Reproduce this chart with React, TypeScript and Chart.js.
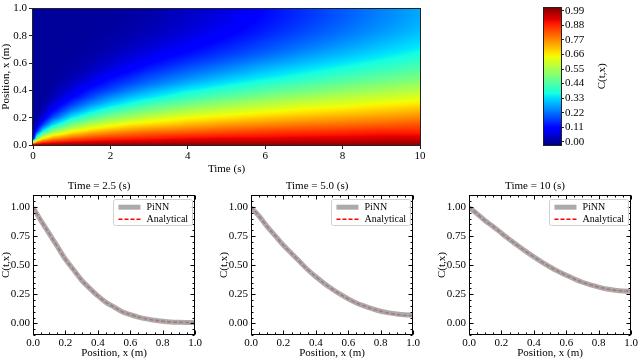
import React, { useEffect, useRef } from 'react';
import Chart from 'chart.js/auto';

const SERIF = '"Liberation Serif", "Times New Roman", serif';

// ---------- Top panel: C(t, x) field ----------
const HEAT_TIMES = [0, 0.1, 0.25, 0.5, 1, 1.5, 2, 2.5, 3, 4, 5, 6, 7, 8, 9, 10];
const HEAT_POSITIONS = [0, 0.05, 0.1, 0.15, 0.2, 0.25, 0.3, 0.35, 0.4, 0.45, 0.5, 0.55, 0.6, 0.65, 0.7, 0.75, 0.8, 0.85, 0.9, 0.95, 1.0];
const C_T0 = [1, 0, 0, 0, 0, 0, 0, 0, 0, 0, 0, 0, 0, 0, 0, 0, 0, 0, 0, 0, 0];
const C_T0_1 = [1, 0.46, 0.14, 0.03, 0.003, 0, 0, 0, 0, 0, 0, 0, 0, 0, 0, 0, 0, 0, 0, 0, 0];
const C_T0_25 = [1, 0.64, 0.35, 0.16, 0.06, 0.02, 0.005, 0, 0, 0, 0, 0, 0, 0, 0, 0, 0, 0, 0, 0, 0];
const C_T0_5 = [1, 0.74, 0.51, 0.32, 0.18, 0.1, 0.05, 0.02, 0.01, 0.003, 0, 0, 0, 0, 0, 0, 0, 0, 0, 0, 0];
const C_T1 = [1, 0.81, 0.64, 0.48, 0.35, 0.24, 0.16, 0.1, 0.06, 0.035, 0.019, 0.01, 0.005, 0.002, 0.001, 0, 0, 0, 0, 0, 0];
const C_T1_5 = [1, 0.85, 0.7, 0.57, 0.44, 0.34, 0.25, 0.18, 0.13, 0.085, 0.056, 0.035, 0.021, 0.013, 0.007, 0.004, 0.002, 0.001, 0, 0, 0];
const C_T2 = [1, 0.87, 0.74, 0.62, 0.51, 0.41, 0.32, 0.25, 0.18, 0.14, 0.1, 0.068, 0.047, 0.031, 0.021, 0.013, 0.008, 0.005, 0.003, 0.002, 0.002];
const C_T2_5 = [1, 0.88, 0.77, 0.66, 0.55, 0.46, 0.37, 0.3, 0.235, 0.18, 0.14, 0.1, 0.075, 0.054, 0.038, 0.026, 0.018, 0.012, 0.009, 0.007, 0.006];
const C_T3 = [1, 0.89, 0.79, 0.68, 0.59, 0.5, 0.42, 0.34, 0.28, 0.22, 0.18, 0.14, 0.105, 0.079, 0.059, 0.043, 0.032, 0.023, 0.018, 0.015, 0.013];
const C_T4 = [1, 0.91, 0.81, 0.72, 0.64, 0.56, 0.48, 0.41, 0.35, 0.29, 0.24, 0.2, 0.16, 0.128, 0.101, 0.082, 0.066, 0.053, 0.045, 0.04, 0.038];
const C_T5 = [1, 0.92, 0.83, 0.75, 0.67, 0.6, 0.53, 0.46, 0.4, 0.345, 0.295, 0.25, 0.21, 0.175, 0.148, 0.124, 0.104, 0.088, 0.076, 0.068, 0.065];
const C_T6 = [1, 0.92, 0.85, 0.77, 0.7, 0.63, 0.57, 0.5, 0.445, 0.39, 0.34, 0.3, 0.26, 0.22, 0.19, 0.17, 0.147, 0.132, 0.12, 0.114, 0.112];
const C_T7 = [1, 0.93, 0.86, 0.79, 0.72, 0.66, 0.6, 0.54, 0.48, 0.43, 0.38, 0.34, 0.3, 0.266, 0.236, 0.21, 0.19, 0.174, 0.162, 0.155, 0.154];
const C_T8 = [1, 0.93, 0.87, 0.8, 0.74, 0.68, 0.62, 0.57, 0.515, 0.466, 0.42, 0.378, 0.34, 0.306, 0.277, 0.252, 0.231, 0.216, 0.204, 0.197, 0.196];
const C_T9 = [1, 0.94, 0.88, 0.815, 0.755, 0.7, 0.647, 0.594, 0.544, 0.497, 0.453, 0.413, 0.377, 0.344, 0.316, 0.292, 0.272, 0.256, 0.245, 0.239, 0.236];
const C_T10 = [1, 0.94, 0.88, 0.83, 0.774, 0.72, 0.668, 0.618, 0.571, 0.526, 0.484, 0.446, 0.412, 0.381, 0.353, 0.33, 0.311, 0.295, 0.285, 0.278, 0.277];
const HEAT_COLUMNS = [C_T0, C_T0_1, C_T0_25, C_T0_5, C_T1, C_T1_5, C_T2, C_T2_5, C_T3, C_T4, C_T5, C_T6, C_T7, C_T8, C_T9, C_T10];

const TIME_TICKS = [0, 2, 4, 6, 8, 10];
const POS_TICKS = [0, 0.2, 0.4, 0.6, 0.8, 1.0];
const CBAR_TICKS = [0, 0.11, 0.22, 0.33, 0.44, 0.55, 0.66, 0.77, 0.88, 0.99];
const CBAR_MIN = -0.024;
const CBAR_MAX = 1.014;

// ---------- Bottom panels: profiles ----------
const PROFILE_X = [0, 0.05, 0.1, 0.15, 0.2, 0.25, 0.3, 0.35, 0.4, 0.45, 0.5, 0.55, 0.6, 0.65, 0.7, 0.75, 0.8, 0.85, 0.9, 0.95, 1.0];
const PINN_T2_5 = [0.995, 0.88, 0.77, 0.66, 0.55, 0.46, 0.37, 0.3, 0.235, 0.18, 0.14, 0.1, 0.075, 0.054, 0.038, 0.026, 0.018, 0.012, 0.009, 0.007, 0.006];
const EXACT_T2_5 = [1, 0.88, 0.77, 0.66, 0.55, 0.46, 0.37, 0.3, 0.235, 0.18, 0.14, 0.1, 0.075, 0.054, 0.038, 0.026, 0.018, 0.012, 0.009, 0.007, 0.006];
const PINN_T5 = [0.995, 0.92, 0.83, 0.75, 0.67, 0.6, 0.53, 0.46, 0.4, 0.345, 0.295, 0.25, 0.21, 0.175, 0.148, 0.124, 0.104, 0.09, 0.08, 0.073, 0.07];
const EXACT_T5 = [1, 0.92, 0.83, 0.75, 0.67, 0.6, 0.53, 0.46, 0.4, 0.345, 0.295, 0.25, 0.21, 0.175, 0.148, 0.124, 0.104, 0.088, 0.076, 0.068, 0.065];
const PINN_T10 = [0.995, 0.94, 0.88, 0.83, 0.774, 0.72, 0.668, 0.618, 0.571, 0.526, 0.484, 0.446, 0.412, 0.381, 0.353, 0.33, 0.311, 0.295, 0.285, 0.278, 0.275];
const EXACT_T10 = [1, 0.94, 0.88, 0.83, 0.774, 0.72, 0.668, 0.618, 0.571, 0.526, 0.484, 0.446, 0.412, 0.381, 0.353, 0.33, 0.311, 0.295, 0.285, 0.278, 0.277];
const PANEL_TITLES = ['Time = 2.5 (s)', 'Time = 5.0 (s)', 'Time = 10 (s)'];
const PROFILE_X_TICKS = [0, 0.2, 0.4, 0.6, 0.8, 1.0];
const PROFILE_C_TICKS = [0, 0.25, 0.5, 0.75, 1.0];
const SERIES_NAMES = ['PiNN', 'Analytical'];

// ---------- helpers ----------
const JET_R = [[0, 0], [0.35, 0], [0.66, 1], [0.89, 1], [1, 0.5]];
const JET_G = [[0, 0], [0.125, 0], [0.375, 1], [0.64, 1], [0.91, 0], [1, 0]];
const JET_B = [[0, 0.5], [0.11, 1], [0.34, 1], [0.65, 0], [1, 0]];
function seg(s: number[][], v: number) {
  for (let i = 0; i < s.length - 1; i++) {
    if (v <= s[i + 1][0]) {
      const f = (v - s[i][0]) / (s[i + 1][0] - s[i][0]);
      return s[i][1] + f * (s[i + 1][1] - s[i][1]);
    }
  }
  return s[s.length - 1][1];
}
function jet(v: number) {
  const t = Math.max(0, Math.min(1, v));
  return [seg(JET_R, t) * 255, seg(JET_G, t) * 255, seg(JET_B, t) * 255];
}
function locate(arr: number[], v: number) {
  if (v <= arr[0]) return [0, 0];
  for (let i = 0; i < arr.length - 1; i++) {
    if (v <= arr[i + 1]) return [i, (v - arr[i]) / (arr[i + 1] - arr[i])];
  }
  return [arr.length - 2, 1];
}
function sampleField(t: number, x: number) {
  const [i, ft] = locate(HEAT_TIMES, t);
  const [j, fx] = locate(HEAT_POSITIONS, x);
  const a = HEAT_COLUMNS[i], b = HEAT_COLUMNS[i + 1];
  const v0 = a[j] + (a[j + 1] - a[j]) * fx;
  const v1 = b[j] + (b[j + 1] - b[j]) * fx;
  return v0 + (v1 - v0) * ft;
}
const font = (size: number) => ({ family: SERIF, size, weight: 'normal' as const, lineHeight: 1.2 });

const heatPlugin = {
  id: 'heatField',
  beforeDatasetsDraw(chart: any) {
    const { ctx, chartArea: a, scales } = chart;
    const xs = scales.x, ys = scales.y;
    const L = Math.round(a.left), T = Math.round(a.top);
    const w = Math.round(a.right) - L, h = Math.round(a.bottom) - T;
    const img = ctx.createImageData(w, h);
    for (let py = 0; py < h; py++) {
      const pos = ys.getValueForPixel(T + py + 0.5);
      for (let px = 0; px < w; px++) {
        const t = xs.getValueForPixel(L + px + 0.5);
        const v = sampleField(t, pos);
        const [r, g, b] = jet((v - CBAR_MIN) / (CBAR_MAX - CBAR_MIN));
        const k = (py * w + px) * 4;
        img.data[k] = r; img.data[k + 1] = g; img.data[k + 2] = b; img.data[k + 3] = 255;
      }
    }
    const off = document.createElement('canvas');
    off.width = w; off.height = h;
    (off.getContext('2d') as CanvasRenderingContext2D).putImageData(img, 0, 0);
    ctx.drawImage(off, L, T);
  },
  afterDraw(chart: any) {
    const { ctx, chartArea: a } = chart;
    ctx.save();
    ctx.strokeStyle = '#222';
    ctx.lineWidth = 1;
    ctx.strokeRect(Math.round(a.left) - 0.5, Math.round(a.top) - 0.5, Math.round(a.right - a.left) + 1, Math.round(a.bottom - a.top) + 1);
    ctx.restore();
  },
};

const colorbarPlugin = {
  id: 'colorbar',
  beforeDatasetsDraw(chart: any) {
    const { ctx, chartArea: a, scales } = chart;
    const ys = scales.y;
    for (let py = Math.round(a.top); py < Math.round(a.bottom); py++) {
      const v = ys.getValueForPixel(py + 0.5);
      const [r, g, b] = jet((v - CBAR_MIN) / (CBAR_MAX - CBAR_MIN));
      ctx.fillStyle = `rgb(${r},${g},${b})`;
      ctx.fillRect(a.left, py, a.right - a.left, 1);
    }
  },
  afterDraw(chart: any) {
    const { ctx, chartArea: a } = chart;
    ctx.save();
    ctx.strokeStyle = '#222';
    ctx.lineWidth = 1;
    ctx.strokeRect(Math.round(a.left) - 0.5, Math.round(a.top) - 0.5, Math.round(a.right - a.left) + 1, Math.round(a.bottom - a.top) + 1);
    ctx.translate(72, (a.top + a.bottom) / 2);
    ctx.rotate(-Math.PI / 2);
    ctx.fillStyle = '#000';
    ctx.font = `11px ${SERIF}`;
    ctx.textAlign = 'center';
    ctx.textBaseline = 'middle';
    ctx.fillText('C(t,x)', 0, 0);
    ctx.restore();
  },
};

const profilePlugin = {
  id: 'profileFrame',
  afterDraw(chart: any) {
    const { ctx, chartArea: a, scales } = chart;
    const xs = scales.x, ys = scales.y;
    const L = Math.round(a.left) + 0.5, R = Math.round(a.right) - 0.5;
    const T = Math.round(a.top) + 0.5, B = Math.round(a.bottom) - 0.5;
    ctx.save();
    ctx.strokeStyle = '#000';
    ctx.lineWidth = 1;
    ctx.strokeRect(L, T, R - L, B - T);
    const tick = (len: number, vx: number | null, vy: number | null) => {
      ctx.beginPath();
      if (vx !== null) {
        const p = Math.round(xs.getPixelForValue(vx)) + 0.5;
        ctx.moveTo(p, B); ctx.lineTo(p, B - len);
        ctx.moveTo(p, T); ctx.lineTo(p, T + len);
      } else if (vy !== null) {
        const p = Math.round(ys.getPixelForValue(vy)) + 0.5;
        ctx.moveTo(L, p); ctx.lineTo(L + len, p);
        ctx.moveTo(R, p); ctx.lineTo(R - len, p);
      }
      ctx.stroke();
    };
    for (let k = 0; k <= 20; k++) {
      const v = k / 20;
      tick(k % 4 === 0 ? 4 : 2, v, null);
    }
    for (let k = -2; k <= 22; k++) {
      const v = k / 20;
      tick(k % 5 === 0 ? 4 : 2, null, v);
    }
    // legend
    ctx.font = `10px ${SERIF}`;
    const tw = Math.max(...SERIES_NAMES.map((n) => ctx.measureText(n).width));
    const bw = 5 + 22 + 6 + tw + 4;
    const bh = 26;
    const bx = a.right - 3 - bw;
    const by = a.top + 4;
    ctx.fillStyle = 'rgba(255,255,255,0.85)';
    ctx.strokeStyle = '#d0d0d0';
    ctx.lineWidth = 1;
    ctx.beginPath();
    ctx.roundRect(Math.round(bx) + 0.5, Math.round(by) + 0.5, Math.round(bw), bh, 2);
    ctx.fill();
    ctx.stroke();
    chart.data.datasets.forEach((ds: any, i: number) => {
      const yy = by + 8 + i * 12;
      ctx.beginPath();
      ctx.strokeStyle = ds.borderColor;
      ctx.lineWidth = ds.borderWidth;
      ctx.setLineDash(ds.borderDash || []);
      ctx.moveTo(bx + 5, yy);
      ctx.lineTo(bx + 27, yy);
      ctx.stroke();
      ctx.setLineDash([]);
      ctx.fillStyle = '#000';
      ctx.textAlign = 'left';
      ctx.textBaseline = 'middle';
      ctx.fillText(ds.label, bx + 33, yy);
    });
    ctx.restore();
  },
};

function heatConfig(): any {
  return {
    type: 'scatter',
    data: { datasets: [{ data: [] }] },
    options: {
      responsive: false,
      animation: false,
      devicePixelRatio: 1,
      layout: { padding: { left: 0, right: 20, top: 4, bottom: 0 } },
      plugins: { legend: { display: false }, tooltip: { enabled: false } },
      scales: {
        x: {
          type: 'linear', min: 0, max: 10,
          afterBuildTicks: (s: any) => { s.ticks = TIME_TICKS.map((v) => ({ value: v })); },
          afterFit: (s: any) => { s.height = 35; },
          ticks: { callback: (v: any) => String(v), font: font(11), color: '#000', padding: 1, maxRotation: 0, autoSkip: false },
          grid: { drawOnChartArea: false, drawTicks: true, tickLength: 4, tickColor: '#222', tickWidth: 1 },
          border: { display: false },
          title: { display: true, text: 'Time (s)', font: font(11), color: '#000', padding: { top: 0, bottom: 4 } },
        },
        y: {
          type: 'linear', min: 0, max: 1,
          afterBuildTicks: (s: any) => { s.ticks = POS_TICKS.map((v) => ({ value: v })); },
          afterFit: (s: any) => { s.width = 33; },
          ticks: { callback: (v: any) => Number(v).toFixed(1), font: font(11), color: '#000', padding: 2, autoSkip: false },
          grid: { drawOnChartArea: false, drawTicks: true, tickLength: 4, tickColor: '#222', tickWidth: 1 },
          border: { display: false },
          title: { display: true, text: 'Position, x (m)', font: font(11), color: '#000', padding: 0 },
        },
      },
    },
    plugins: [heatPlugin],
  };
}

function colorbarConfig(): any {
  return {
    type: 'scatter',
    data: { datasets: [{ data: [] }] },
    options: {
      responsive: false,
      animation: false,
      devicePixelRatio: 1,
      layout: { padding: { left: 14, right: 31, top: 4, bottom: 35 } },
      plugins: { legend: { display: false }, tooltip: { enabled: false } },
      scales: {
        x: { type: 'linear', display: false, min: 0, max: 1 },
        y: {
          type: 'linear', position: 'right', min: CBAR_MIN, max: CBAR_MAX,
          afterBuildTicks: (s: any) => { s.ticks = CBAR_TICKS.map((v) => ({ value: v })); },
          afterFit: (s: any) => { s.width = 48; },
          ticks: { callback: (v: any) => Number(v).toFixed(2), font: font(11), color: '#000', padding: 1, autoSkip: false },
          grid: { drawOnChartArea: false, drawTicks: true, tickLength: 3, tickColor: '#222', tickWidth: 1 },
          border: { display: false },
        },
      },
    },
    plugins: [colorbarPlugin],
  };
}

function profileConfig(title: string, pinn: number[], exact: number[]): any {
  return {
    type: 'line',
    data: {
      datasets: [
        {
          label: SERIES_NAMES[0],
          data: PROFILE_X.map((x, i) => ({ x, y: pinn[i] })),
          borderColor: 'rgba(150,150,150,0.8)',
          borderWidth: 5,
          pointRadius: 0,
          cubicInterpolationMode: 'monotone',
          borderCapStyle: 'butt',
        },
        {
          label: SERIES_NAMES[1],
          data: PROFILE_X.map((x, i) => ({ x, y: exact[i] })),
          borderColor: '#ff0000',
          borderWidth: 1.6,
          borderDash: [4, 2],
          pointRadius: 0,
          cubicInterpolationMode: 'monotone',
        },
      ],
    },
    options: {
      responsive: false,
      animation: false,
      devicePixelRatio: 1,
      layout: { padding: { left: 0, right: 6, top: 0, bottom: 0 } },
      plugins: {
        legend: { display: false },
        tooltip: { enabled: false },
        title: { display: true, text: title, font: font(11), color: '#000', padding: { top: 5, bottom: 2 } },
      },
      scales: {
        x: {
          type: 'linear', min: 0, max: 1,
          afterBuildTicks: (s: any) => { s.ticks = PROFILE_X_TICKS.map((v) => ({ value: v })); },
          afterFit: (s: any) => { s.height = 25; },
          ticks: { callback: (v: any) => Number(v).toFixed(1), font: font(11), color: '#000', padding: 2, maxRotation: 0, autoSkip: false },
          grid: { display: false, drawTicks: false },
          border: { display: false },
          title: { display: true, text: 'Position, x (m)', font: font(11), color: '#000', padding: 0 },
        },
        y: {
          type: 'linear', min: -0.1, max: 1.1,
          afterBuildTicks: (s: any) => { s.ticks = PROFILE_C_TICKS.map((v) => ({ value: v })); },
          afterFit: (s: any) => { s.width = 33; },
          ticks: { callback: (v: any) => Number(v).toFixed(2), font: font(11), color: '#000', padding: 3, autoSkip: false },
          grid: { display: false, drawTicks: false },
          border: { display: false },
          title: { display: true, text: 'C(t,x)', font: font(11), color: '#000', padding: 0 },
        },
      },
    },
    plugins: [profilePlugin],
  };
}

function ChartCanvas({ make, left, top, width, height }: { make: () => any; left: number; top: number; width: number; height: number }) {
  const ref = useRef<HTMLCanvasElement | null>(null);
  useEffect(() => {
    if (!ref.current) return;
    const chart = new Chart(ref.current, make());
    return () => chart.destroy();
  }, []);
  return (
    <canvas
      ref={ref}
      width={width}
      height={height}
      style={{ position: 'absolute', left, top, width, height }}
    />
  );
}

export default function App() {
  return (
    <div style={{ position: 'fixed', left: 0, top: 0, width: 640, height: 360, background: '#fff', overflow: 'hidden' }}>
      <ChartCanvas make={heatConfig} left={0} top={0} width={440} height={180} />
      <ChartCanvas make={colorbarConfig} left={530} top={0} width={110} height={180} />
      <ChartCanvas make={() => profileConfig(PANEL_TITLES[0], PINN_T2_5, EXACT_T2_5)} left={0} top={175} width={204} height={185} />
      <ChartCanvas make={() => profileConfig(PANEL_TITLES[1], PINN_T5, EXACT_T5)} left={218} top={175} width={204} height={185} />
      <ChartCanvas make={() => profileConfig(PANEL_TITLES[2], PINN_T10, EXACT_T10)} left={436} top={175} width={204} height={185} />
    </div>
  );
}
